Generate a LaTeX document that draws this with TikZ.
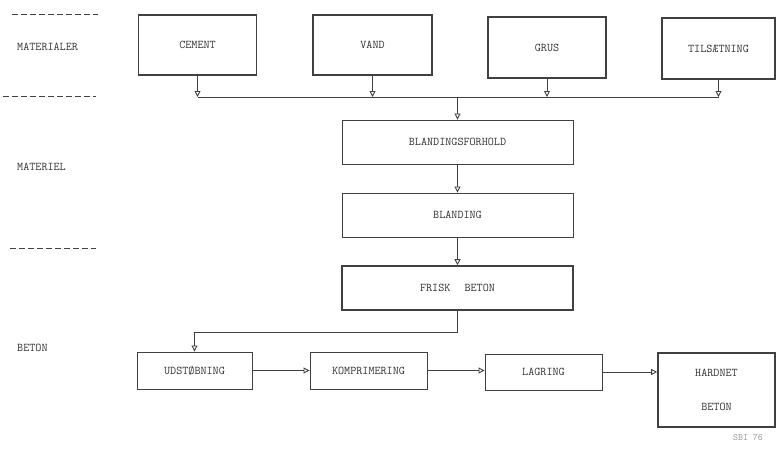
\documentclass[tikz,border=0pt]{standalone}
\usepackage{fontspec}
\usetikzlibrary{arrows.meta}
\definecolor{ink}{gray}{0.25}
\definecolor{txt}{gray}{0.2}
\tikzset{
  boxthin/.style={draw=ink, line width=0.9pt, inner sep=0pt, text=txt, font=\ttfamily\fontsize{11.8}{13}\selectfont},
  boxthick/.style={boxthin, line width=1.6pt},
  arr/.style={draw=ink, line width=0.9pt, -{Triangle[open,length=6pt,width=6pt]}},
  conn/.style={draw=ink, line width=0.9pt},
  sidelabel/.style={anchor=west, inner sep=0pt, text=txt, font=\ttfamily\fontsize{11.8}{13}\selectfont},
  sep/.style={draw=ink, line width=0.8pt, dash pattern=on 6pt off 3pt}
}
\begin{document}
\begin{tikzpicture}[x=1pt,y=-1pt]
\useasboundingbox[fill=white] (0,0) rectangle (777,450);

% left column labels
\draw[sep] (12,14) -- (98,14);
\node[sidelabel] (lmat) at (17,47) {MATERIALER};
\draw[sep] (3,96) -- (96,96);
\node[sidelabel] (lmatl) at (17,167) {MATERIEL};
\draw[sep] (10,248) -- (96,248);
\node[sidelabel] (lbet) at (17,348) {BETON};

% materials
\node[boxthick, minimum width=118pt, minimum height=60pt] (cement) at (197.5,45) {CEMENT};
\node[boxthick, minimum width=119pt, minimum height=60pt] (vand) at (372.5,45) {VAND};
\node[boxthick, minimum width=118pt, minimum height=61pt] (grus) at (547,47.5) {GRUS};
\node[boxthick, minimum width=113pt, minimum height=61pt] (tils) at (718.5,48.5) {TILSÆTNING};

% process
\node[boxthin, minimum width=231pt, minimum height=44pt] (bfh) at (457.5,142) {BLANDINGSFORHOLD};
\node[boxthin, minimum width=231pt, minimum height=44pt] (bl) at (457.5,215) {BLANDING};
\node[boxthick, minimum width=231pt, minimum height=44pt] (frisk) at (457.5,288) {FRISK\hspace{1.2em}BETON};

\node[boxthin, minimum width=115pt, minimum height=37pt] (udst) at (194.5,370.5) {UDSTØBNING};
\node[boxthin, minimum width=117pt, minimum height=37pt] (komp) at (368.5,370.5) {KOMPRIMERING};
\node[boxthin, minimum width=117pt, minimum height=36pt] (lag) at (543.5,372) {LAGRING};
\node[boxthick, minimum width=117pt, minimum height=74pt, align=center] (hard) at (716.5,390) {HARDNET\\[21pt]BETON};

% collecting bus
\coordinate (bus) at (457.5,97);
\draw[arr] (cement.south) -- (cement.south |- bus);
\draw[arr] (vand.south) -- (vand.south |- bus);
\draw[arr] (grus.south) -- (grus.south |- bus);
\draw[arr] (tils.south) -- (tils.south |- bus);
\draw[conn] (cement.south |- bus) -- (tils.south |- bus);
\draw[arr] (bus) -- (bfh.north);
\draw[arr] (bfh.south) -- (bl.north);
\draw[arr] (bl.south) -- (frisk.north);

% fresh concrete to casting
\draw[arr] (frisk.south) -- ++(0,22) -| (udst.north);
\draw[arr] (udst.east) -- (komp.west);
\draw[arr] (komp.east) -- (komp.east -| lag.west);
\draw[arr] (lag.east) -- (lag.east -| hard.west);

\node[inner sep=0pt, text=black!40, font=\ttfamily\fontsize{9.5}{11}\selectfont] (sbi) at (748,438) {SBI 76};
\end{tikzpicture}
\end{document}
